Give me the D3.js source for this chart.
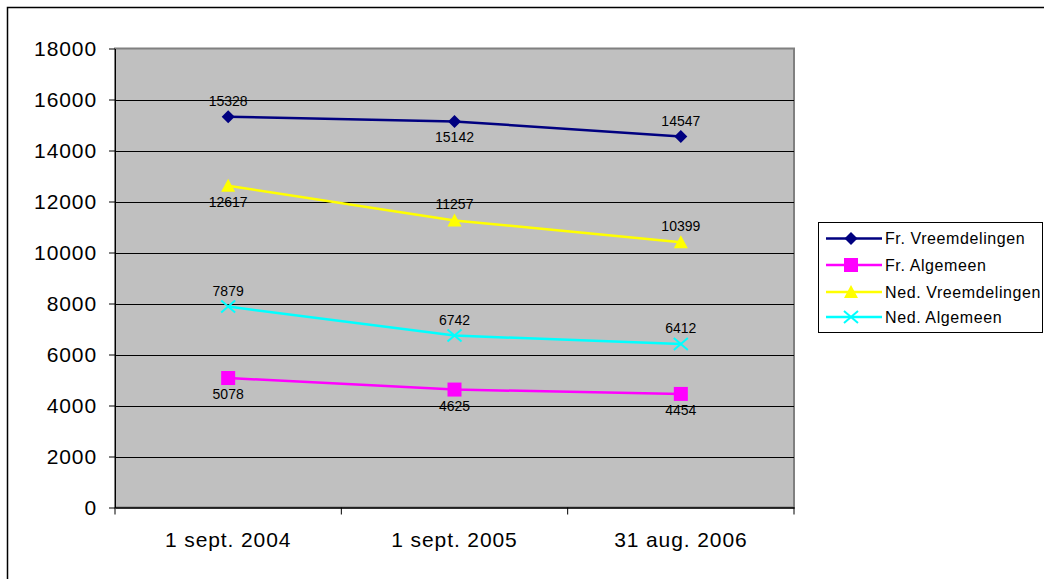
<!DOCTYPE html>
<html><head><meta charset="utf-8">
<script src="https://cdn.jsdelivr.net/npm/d3@7"></script>
<style>body{margin:0;background:#fff}svg{display:block;font-family:"Liberation Sans",Arial,sans-serif}</style>
</head><body><svg id="c" width="1044" height="579"></svg>
<script>
const categories = ["1 sept. 2004", "1 sept. 2005", "31 aug. 2006"];
const seriesNames = ["Fr. Vreemdelingen", "Fr. Algemeen", "Ned. Vreemdelingen", "Ned. Algemeen"];
const frVreemdelingen = [15328, 15142, 14547];
const frAlgemeen = [5078, 4625, 4454];
const nedVreemdelingen = [12617, 11257, 10399];
const nedAlgemeen = [7879, 6742, 6412];
const yTicks = [0, 2000, 4000, 6000, 8000, 10000, 12000, 14000, 16000, 18000];
const colors = ["#000080", "#FF00FF", "#FFFF00", "#00FFFF"];
const markers = ["diamond", "square", "triangle", "x"];
// label placement: 1 = above, -1 = below
const labelPos = [[1,-1,1],[-1,-1,-1],[-1,1,1],[1,1,1]];
const series = [frVreemdelingen, frAlgemeen, nedVreemdelingen, nedAlgemeen];

const svg = d3.select("#c");
const L = 115, R = 794, T = 48.5, B = 507.5;
// outer chart border
svg.append("rect").attr("x",7.5).attr("y",7.5).attr("width",1100).attr("height",700)
  .attr("fill","none").attr("stroke","#000").attr("stroke-width",1.5);

const x = d3.scaleBand().domain(categories).range([L,R]);
const y = d3.scaleLinear().domain([0,18000]).range([B,T]);

svg.append("rect").attr("x",L).attr("y",T).attr("width",R-L).attr("height",B-T)
  .attr("fill","#C0C0C0").attr("stroke","#808080").attr("stroke-width",2);

svg.append("g").selectAll("line").data(yTicks.filter(d=>d>0 && d<18000)).join("line")
  .attr("x1",L).attr("x2",R).attr("y1",d=>Math.round(y(d))+0.5).attr("y2",d=>Math.round(y(d))+0.5)
  .attr("stroke","#000").attr("stroke-width",1);

// y axis
const ya = svg.append("g").attr("transform",`translate(${L},0)`)
  .call(d3.axisLeft(y).tickValues(yTicks).tickSize(6).tickSizeOuter(0).tickPadding(12).tickFormat(d3.format("d")));
ya.select(".domain").attr("stroke","#000");
ya.selectAll("line").attr("stroke","#000");
ya.selectAll("text").attr("font-size",21).attr("letter-spacing","0.9px").attr("fill","#000").attr("font-family","Liberation Sans, Arial");

// x axis
const xa = svg.append("g").attr("transform",`translate(0,${B})`)
  .call(d3.axisBottom(x).tickSize(0).tickPadding(25));
xa.select(".domain").attr("stroke","#000").attr("stroke-width",1.5);
xa.selectAll("text").attr("font-size",21).attr("letter-spacing","0.9px").attr("fill","#000").attr("font-family","Liberation Sans, Arial");
const bounds = [L, ...categories.map(c=>x(c)+x.bandwidth())];
svg.append("g").selectAll("line").data(bounds).join("line")
  .attr("x1",d=>d).attr("x2",d=>d).attr("y1",B).attr("y2",B+7).attr("stroke","#000");

function drawMarker(g, type, color, cx, cy) {
  if (type==="diamond") g.append("path").attr("d",`M${cx},${cy-6.5}L${cx+6.5},${cy}L${cx},${cy+6.5}L${cx-6.5},${cy}Z`).attr("fill",color);
  else if (type==="square") g.append("rect").attr("x",cx-7).attr("y",cy-7).attr("width",14).attr("height",14).attr("fill",color);
  else if (type==="triangle") g.append("path").attr("d",`M${cx},${cy-7}L${cx+7},${cy+6}L${cx-7},${cy+6}Z`).attr("fill",color);
  else if (type==="x") g.append("path").attr("d",`M${cx-7},${cy-6}L${cx+7},${cy+6}M${cx+7},${cy-6}L${cx-7},${cy+6}`).attr("stroke",color).attr("stroke-width",2).attr("fill","none");
}

const line = d3.line().x((d,i)=>x(categories[i])+x.bandwidth()/2).y(d=>y(d));
series.forEach((s,k)=>{
  const g = svg.append("g");
  g.append("path").attr("d",line(s)).attr("fill","none").attr("stroke",colors[k]).attr("stroke-width",2.5);
  s.forEach((v,i)=>{
    const cx = x(categories[i])+x.bandwidth()/2, cy = y(v);
    drawMarker(g, markers[k], colors[k], cx, cy);
    g.append("text").attr("x",cx).attr("y",cy - labelPos[k][i]*16).attr("dy","0.36em")
      .attr("text-anchor","middle").attr("font-size",14).attr("fill","#000").text(v);
  });
});

// legend
const lg = svg.append("g");
lg.append("rect").attr("x",818.5).attr("y",222.5).attr("width",224).attr("height",110)
  .attr("fill","#fff").attr("stroke","#000").attr("stroke-width",1);
const rowY = [238.5, 265, 292, 317];
seriesNames.forEach((n,k)=>{
  lg.append("line").attr("x1",826).attr("x2",882).attr("y1",rowY[k]).attr("y2",rowY[k]).attr("stroke",colors[k]).attr("stroke-width",2.5);
  drawMarker(lg, markers[k], colors[k], 851, rowY[k]);
  lg.append("text").attr("x",885).attr("y",rowY[k]).attr("dy","0.36em").attr("font-size",16).attr("letter-spacing","0.6px").attr("fill","#000").text(n);
});
</script></body></html>
